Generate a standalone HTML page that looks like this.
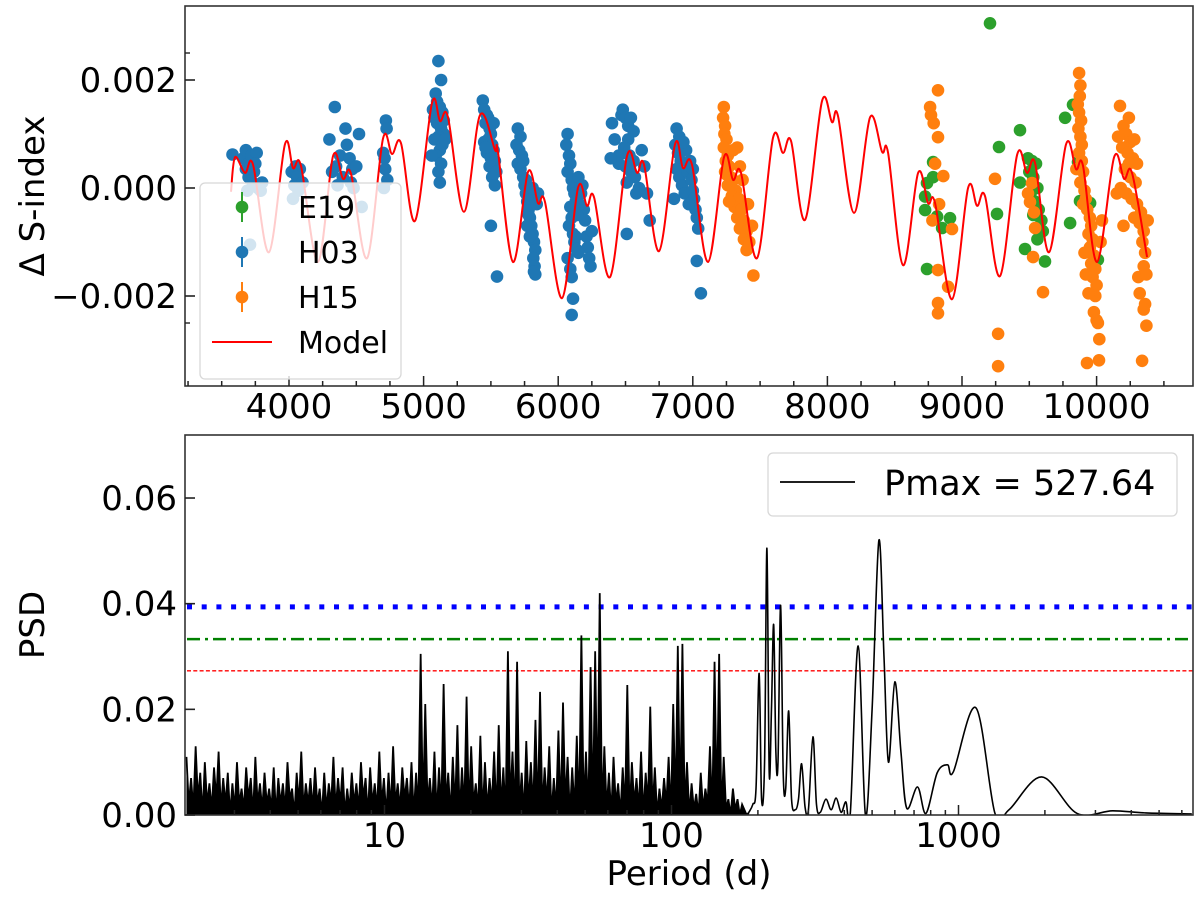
<!DOCTYPE html>
<html><head><meta charset="utf-8"><style>
html,body{margin:0;padding:0;background:#fff;}
svg{display:block;font-family:"DejaVu Sans","Liberation Sans",sans-serif;}
</style></head><body>
<svg id="fig" width="1200" height="897" viewBox="0 0 1200 897" xmlns="http://www.w3.org/2000/svg">
<defs>
<clipPath id="clipTop"><rect x="185" y="6" width="1008" height="380"/></clipPath>
<clipPath id="clipBot"><rect x="185" y="435" width="1008" height="380"/></clipPath>
</defs>
<g id="topPanel"></g>
<g id="botPanel"></g>
</svg>
<script>
// ---------- top panel data (values in units of 1e-3) ----------
const topXTicks = [4000,5000,6000,7000,8000,9000,10000];
const topYTicks = [-2,0,2];
const topYTickLabels = ["\u22120.002","0.000","0.002"];
const topYMinor = [-2.5,2.5];
const modelDates = [3569,3599,3673,3733,3851,3970,4030,4089,4215,4327,4401,4461,4580,4698,4765,4832,4936,5062,5122,5181,5300,5419,5531,5553,5664,5776,5850,5902,6028,6147,6214,6266,6385,6511,6586,6638,6749,6868,6927,6994,7113,7232,7299,7358,7477,7596,7670,7730,7834,7960,8034,8079,8198,8317,8406,8451,8562,8674,8748,8800,8926,9045,9112,9171,9283,9409,9483,9543,9647,9773,9847,9899,10003,10130,10204,10263,10375];
const modelVals = [-0.07,0.57,0.28,0.43,-1.19,0.81,0.37,0.41,-1.37,0.59,0.17,0.26,-1.30,0.91,0.63,0.83,-0.61,1.57,1.24,1.31,-0.44,1.35,0.70,0.66,-1.37,0.30,-0.28,-0.26,-2.04,0.0,-0.33,-0.17,-1.65,0.59,0.28,0.43,-1.17,0.81,0.37,0.43,-1.37,0.57,0.15,0.28,-1.30,0.93,0.65,0.87,-0.59,1.61,1.22,1.33,-0.46,1.31,0.67,0.65,-1.43,0.28,-0.28,-0.28,-2.06,0.0,-0.33,-0.15,-1.63,0.61,0.28,0.46,-1.19,0.81,0.35,0.41,-1.37,0.57,0.17,0.28,-1.28];
const e19 = [[9208,3.05],[9825,1.54],[9766,1.3],[9431,1.07],[9275,0.76],[8785,0.48],[8785,0.2],[8740,0.09],[8726,-0.16],[8726,-0.41],[8815,-0.53],[8911,-0.56],[8852,-0.74],[8740,-1.5],[9260,-0.48],[9490,0.55],[9520,0.5],[9550,0.45],[9500,0.3],[9530,0.2],[9560,0.0],[9510,-0.1],[9540,-0.25],[9570,-0.4],[9530,-0.5],[9590,-0.6],[9600,-0.8],[9560,-0.95],[9431,0.1],[9468,-1.13],[9617,-1.36],[9803,-0.65],[9877,-0.24],[9862,0.48],[9952,-0.28],[10010,-1.33]];
const h03 = [[3580,0.62],[3660,0.55],[3680,0.7],[3700,0.45],[3720,0.6],[3740,0.3],[3760,0.65],[3730,0.1],[3700,0.2],[3690,-0.05],[3770,0.0],[3800,0.1],[3790,-0.05],[3710,-1.05],[3750,0.45],[3680,0.35],
[4020,0.3],[4050,0.4],[4080,0.35],[4060,0.2],[4040,0.05],[4070,-0.05],[4100,0.1],[4030,-0.2],
[4340,1.5],[4300,0.9],[4320,0.3],[4350,0.4],[4380,0.6],[4420,1.1],[4430,0.8],[4450,0.55],[4470,0.35],[4460,0.1],[4500,0.4],[4520,1.0],[4540,-0.35],[4400,0.2],[4360,0.05],[4480,0.0],
[4720,1.25],[4725,1.1],[4700,0.65],[4710,0.55],[4715,0.35],[4730,0.15],[4705,0.0],
[5110,2.35],[5130,2.0],[5090,1.75],[5100,1.6],[5120,1.5],[5140,1.4],[5080,1.3],[5100,1.2],[5130,1.1],[5150,1.0],[5110,0.95],[5080,0.9],[5140,0.8],[5120,0.7],[5090,0.6],[5060,0.6],[5130,0.45],[5110,0.3],[5120,0.1],[5150,1.25],[5160,0.9],[5070,1.45],
[5440,1.62],[5450,1.45],[5470,1.35],[5460,1.2],[5490,1.1],[5500,1.0],[5480,0.9],[5450,0.85],[5510,0.8],[5520,0.7],[5470,0.65],[5500,0.55],[5530,0.5],[5490,0.4],[5540,0.3],[5510,0.2],[5530,0.05],[5480,1.3],[5520,1.2],[5500,-0.7],[5545,-1.64],[5460,0.75],
[5700,1.1],[5720,0.95],[5690,0.8],[5710,0.7],[5730,0.6],[5700,0.45],[5720,0.35],[5740,0.2],[5750,0.05],[5760,-0.1],[5770,-0.25],[5780,-0.4],[5790,-0.55],[5800,-0.7],[5810,-0.85],[5820,-1.0],[5830,-1.15],[5815,-1.3],[5825,-1.45],[5830,-1.6],[5780,-0.5],[5800,-0.2],[5760,0.15],[5740,0.5],[5790,-0.9],[5840,-0.3],[5850,-0.1],[5810,0.0],[5770,-0.7],[5820,-1.55],
[6070,1.0],[6060,0.8],[6080,0.6],[6090,0.45],[6070,0.3],[6100,0.15],[6110,0.0],[6120,-0.1],[6130,-0.25],[6090,-0.35],[6100,-0.55],[6080,-0.7],[6110,-0.85],[6120,-1.0],[6140,-1.15],[6070,-1.3],[6090,-1.5],[6100,-1.65],[6110,-2.05],[6100,-2.35],[6150,0.2],[6170,-0.1],[6190,-0.4],[6200,-0.6],[6210,-0.9],[6220,-1.1],[6230,-1.3],[6240,-1.45],[6160,-0.3],[6180,0.05],[6130,-0.9],[6150,-1.2],[6140,-0.5],[6250,-0.8],
[6400,1.2],[6420,0.9],[6450,0.6],[6470,1.35],[6480,1.45],[6500,1.3],[6520,1.15],[6540,1.3],[6560,1.05],[6520,0.9],[6490,0.75],[6530,0.6],[6560,0.5],[6500,0.4],[6540,0.3],[6570,0.2],[6510,0.1],[6600,0.0],[6580,-0.1],[6620,0.7],[6640,0.4],[6660,-0.1],[6680,-0.6],[6510,-0.85],[6450,0.45],[6390,0.55],
[6880,1.1],[6900,0.95],[6870,0.8],[6890,0.65],[6910,0.5],[6880,0.35],[6900,0.2],[6920,0.05],[6940,-0.1],[6960,0.3],[6980,0.5],[6990,0.15],[7000,-0.05],[7010,-0.2],[7020,-0.4],[7030,-0.55],[6950,0.7],[6860,-0.2],[6970,-0.3],[7040,-0.75],[7030,-1.35],[7060,-1.95],[6930,0.85],[7000,0.35]];
const h15 = [[7230,1.5],[7225,1.3],[7240,1.15],[7235,1.0],[7250,0.9],[7230,0.75],[7260,0.6],[7245,0.5],[7270,0.4],[7300,0.7],[7330,0.75],[7350,0.4],[7240,0.3],[7280,0.2],[7260,0.05],[7300,0.15],[7320,-0.05],[7290,-0.15],[7340,-0.2],[7310,-0.35],[7360,-0.4],[7330,-0.55],[7380,-0.6],[7350,-0.75],[7400,-0.8],[7380,-0.95],[7420,-1.0],[7400,-1.15],[7440,-0.7],[7270,-0.25],[7450,-1.62],[7250,0.25],[7370,0.15],[7410,-0.3],
[8822,1.81],[8763,1.5],[8770,1.35],[8790,1.2],[8822,0.94],[8800,0.45],[8861,0.22],[8830,-0.3],[8926,-0.76],[8822,-1.52],[8897,-1.83],[8822,-2.13],[8822,-2.32],[8780,-0.6],
[9245,0.17],[9268,-2.7],[9268,-3.3],
[9520,0.09],[9505,-0.26],[9543,-0.74],[9528,-1.28],[9602,-1.93],[9490,-0.1],[9535,-0.45],
[9870,2.13],[9880,1.9],[9875,1.7],[9860,1.55],[9870,1.4],[9885,1.25],[9865,1.1],[9880,0.95],[9890,0.8],[9870,0.65],[9850,0.35],[9890,0.5],[9900,0.3],[9880,0.1],[9910,-0.05],[9920,-0.2],[9900,-0.3],[9930,-0.4],[9950,-0.55],[9960,-0.7],[9940,-0.85],[9970,-0.95],[9950,-1.1],[9980,-1.25],[9960,-1.4],[9990,-1.5],[9970,-1.65],[10000,-1.8],[9990,-2.0],[9980,-2.3],[10000,-2.45],[10010,-2.5],[10020,-2.8],[9929,-3.24],[10018,-3.19],[9920,-1.6],[9940,-1.95],[10030,-1.0],[10040,-0.6],[9910,-1.2],
[10174,1.52],[10240,1.3],[10200,1.15],[10220,1.0],[10160,0.95],[10250,0.85],[10280,0.9],[10190,0.75],[10230,0.65],[10270,0.55],[10300,0.45],[10210,0.35],[10250,0.2],[10290,0.1],[10180,0.0],[10220,-0.1],[10260,-0.2],[10300,-0.3],[10330,-0.45],[10280,-0.55],[10320,-0.65],[10350,-0.8],[10200,-0.7],[10340,-1.0],[10360,-1.2],[10350,-1.45],[10310,-1.65],[10370,-1.6],[10320,-1.95],[10360,-2.15],[10350,-2.25],[10370,-2.55],[10338,-3.2],[10240,0.45],[10150,-0.1],[10380,-0.6]];

// ---------- bottom panel data (PSD in units of 1e-3) ----------
const psdYTicks = [0,20,40,60];
const psdYTickLabels = ["0.00","0.02","0.04","0.06"];
const periodTicks = [10,100,1000];
const noiseLogStart = 0.31, noiseLogStep = 0.008;
const noisePsd = [11,2,7,1,13,3,8,0,10,2,6,1,9,3,12,1,7,2,8,0,
6,1,10,2,5,1,9,3,7,0,11,2,6,1,8,2,5,1,9,0,
7,2,6,1,10,3,5,0,8,2,12,1,6,2,7,1,9,2,5,0,
8,1,6,2,11,1,7,2,9,0,5,1,8,2,6,1,10,3,7,0,
9,2,6,1,12,2,7,0,8,1,13,2,6,1,9,3,7,1,10,0,
8,1,30.5,0,21,2,7,1,12,0,9,1,24.8,2,8,0,11,1,17,0,
9,1,22.4,0,13,2,6,1,15,0,10,1,7,2,12,0,17,1,9,0,
31,2,12,0,29,1,8,0,14,2,10,1,18,0,23.3,1,9,2,13,0,
7,1,16,0,21.3,2,11,0,9,1,15,0,34,1,12,0,28,0,31,1,
42,0,13,1,8,0,11,2,6,0,9,1,24.6,0,10,2,7,1,12,0,
8,2,20.5,1,9,0,5,1,7,2,11,0,21,1,32,0,32.4,1,10,0,
6,1,4,0,8,1,5,2,13,0,29,1,30.5,0,11,1,3,0,5,1,
3,0,2,1,0,0.5];
const smoothPeriods = [186,192,197,202,206,211,215,219,223,227,231,235,240,245,250,256,262,270,277,284,292,300,311,320,330,345,360,375,390,405,420,447,474,500,528,550,570,600,630,660,720,770,843,915,960,1150,1340,1500,1950,2590,3440,4500,6500];
const smoothPsd = [0.5,2,5,26.8,3,10,50.5,8,20,36,12,10,39.7,8,5,19.7,3,1,3,9.7,1.5,1,14.8,2,0.5,3,1,3.2,0.5,2.5,0.5,32,0,20,52,30,10,25.2,12,1.3,5.3,0.3,8,9.5,8.2,20.3,0.3,1,7.2,0.3,0.8,0.4,0.2];
const fapLevels = [39.4,33.3,27.3];

const NS="http://www.w3.org/2000/svg";
function mk(tag, attrs, parent){const e=document.createElementNS(NS,tag);for(const k in attrs)e.setAttribute(k,attrs[k]);parent.appendChild(e);return e;}
function txt(s, attrs, parent){const e=mk('text',attrs,parent);e.textContent=s;return e;}
function catmull(pts){let d='M'+pts[0][0].toFixed(2)+','+pts[0][1].toFixed(2);
 for(let i=0;i<pts.length-1;i++){const p0=pts[Math.max(i-1,0)],p1=pts[i],p2=pts[i+1],p3=pts[Math.min(i+2,pts.length-1)];
  const c1=[p1[0]+(p2[0]-p0[0])/6,p1[1]+(p2[1]-p0[1])/6],c2=[p2[0]-(p3[0]-p1[0])/6,p2[1]-(p3[1]-p1[1])/6];
  d+='C'+c1[0].toFixed(2)+','+c1[1].toFixed(2)+' '+c2[0].toFixed(2)+','+c2[1].toFixed(2)+' '+p2[0].toFixed(2)+','+p2[1].toFixed(2);}
 return d;}

// ---------- top panel ----------
const topG=document.getElementById('topPanel');
const tx=d=>289+(d-4000)*0.1346;
const ty=v=>188-v*54;
const plotT=mk('g',{'clip-path':'url(#clipTop)'},topG);


function scatter(data,color,name){const g=mk('g',{fill:color},plotT);
 
 
 data.forEach(p=>{const c=mk('circle',{cx:tx(p[0]).toFixed(1),cy:ty(p[1]).toFixed(1),r:6.3},g);
  
  });}
scatter(e19,'#2ca02c','e19-series');
scatter(h03,'#1f77b4','h03-series');
scatter(h15,'#ff7f0e','h15-series');
const mpts=modelDates.map((d,i)=>[tx(d),ty(modelVals[i])]);
const mline=mk('path',{d:catmull(mpts),fill:'none',stroke:'#ff0000','stroke-width':2},plotT);


const fT=mk('rect',{x:185,y:6,width:1008,height:380,fill:'none',stroke:'#333','stroke-width':1.6},topG);


topYTicks.forEach((v,i)=>{mk('line',{x1:185,x2:195,y1:ty(v),y2:ty(v),stroke:'#222','stroke-width':1.6},topG);
 const t=txt(topYTickLabels[i],{x:177,y:ty(v)+12,'font-size':34,'text-anchor':'end',fill:'#000'},topG);
 
 });
topYMinor.forEach(v=>mk('line',{x1:185,x2:190,y1:ty(v),y2:ty(v),stroke:'#222','stroke-width':1.4},topG));
for(let d=3250;d<=10700;d+=250){const major=d%1000===0;mk('line',{x1:tx(d),x2:tx(d),y1:386,y2:major?376:381,stroke:'#222','stroke-width':1.5},topG);}
topXTicks.forEach(d=>{const t=txt(String(d),{x:tx(d),y:418,'font-size':34,'text-anchor':'middle',fill:'#000'},topG);
 
 });
const yl=txt('\u0394 S-index',{x:0,y:0,'font-size':34,'text-anchor':'middle',transform:'translate(44,196) rotate(-90)',fill:'#000'},topG);


const lg=mk('g',{},topG);


mk('rect',{x:200,y:183,width:201,height:196,rx:5,fill:'rgba(255,255,255,0.8)',stroke:'#d8d8d8','stroke-width':1.3},lg);
[['E19','#2ca02c',207],['H03','#1f77b4',252],['H15','#ff7f0e',297]].forEach(e=>{
 const g=mk('g',{},lg);
 
 
 mk('line',{x1:242,x2:242,y1:e[2]-15,y2:e[2]+15,stroke:e[1],'stroke-width':2},g);
 mk('circle',{cx:242,cy:e[2],r:6.3,fill:e[1]},g);
 txt(e[0],{x:298,y:e[2]+11,'font-size':30,fill:'#000'},g);});
const lm=mk('g',{},lg);


mk('line',{x1:212,x2:272,y1:342,y2:342,stroke:'#ff0000','stroke-width':2},lm);
txt('Model',{x:298,y:353,'font-size':30,fill:'#000'},lm);

// ---------- bottom panel ----------
const botG=document.getElementById('botPanel');
const bx=p=>384.5+(Math.log10(p)-1)*287;
const bxl=l=>384.5+(l-1)*287;
const by=v=>815-v*5.283;
const plotB=mk('g',{'clip-path':'url(#clipBot)'},botG);


const fapStyles=[{stroke:'#0000ff','stroke-width':5,'stroke-dasharray':'5 9.7'},{stroke:'#008000','stroke-width':2.5,'stroke-dasharray':'13 5 3 5'},{stroke:'#ff0000','stroke-width':1.4,'stroke-dasharray':'4 2.3'}];
const fapNames=['fap-line-0.1','fap-line-1','fap-line-10'];
fapLevels.forEach((v,i)=>{const a=Object.assign({x1:187,x2:1193,y1:by(v),y2:by(v)},fapStyles[i]);const l=mk('line',a,plotB);
 
 });
let nd='';noisePsd.forEach((v,i)=>{nd+=(i?'L':'M')+bxl(noiseLogStart+noiseLogStep*i).toFixed(2)+','+by(v).toFixed(2);});
const nEnd=bxl(noiseLogStart+noiseLogStep*(noisePsd.length-1)).toFixed(2);
const nfill=mk('path',{d:nd+'L'+nEnd+',815L'+bxl(noiseLogStart).toFixed(2)+',815Z',fill:'#000',stroke:'none'},plotB);


const np=mk('path',{d:nd,fill:'none',stroke:'#000','stroke-width':1.8},plotB);


const spts=smoothPeriods.map((p,i)=>[bx(p),by(smoothPsd[i])]);
const sp=mk('path',{d:catmull(spts),fill:'none',stroke:'#000','stroke-width':1.6},plotB);


const fB=mk('rect',{x:185,y:435,width:1008,height:380,fill:'none',stroke:'#333','stroke-width':1.6},botG);


psdYTicks.forEach((v,i)=>{mk('line',{x1:185,x2:195,y1:by(v),y2:by(v),stroke:'#222','stroke-width':1.6},botG);
 const t=txt(psdYTickLabels[i],{x:177,y:by(v)+12,'font-size':34,'text-anchor':'end',fill:'#000'},botG);
 
 });
[1,10,100,1000].forEach(dec=>{for(let m=1;m<10;m++){const p=dec*m;const x=bx(p);if(x<186||x>1192)continue;
 mk('line',{x1:x,x2:x,y1:815,y2:m===1?805:810,stroke:'#222','stroke-width':1.5},botG);}});
periodTicks.forEach(p=>{const t=txt(String(p),{x:bx(p),y:847,'font-size':34,'text-anchor':'middle',fill:'#000'},botG);
 
 });
const xl=txt('Period (d)',{x:689,y:885,'font-size':34,'text-anchor':'middle',fill:'#000'},botG);


const pl=txt('PSD',{x:0,y:0,'font-size':34,'text-anchor':'middle',transform:'translate(44,625) rotate(-90)',fill:'#000'},botG);


const lg2=mk('g',{},botG);


mk('rect',{x:768,y:453,width:409,height:63,rx:5,fill:'rgba(255,255,255,0.8)',stroke:'#d8d8d8','stroke-width':1.3},lg2);
mk('line',{x1:780,x2:855,y1:482,y2:482,stroke:'#000','stroke-width':1.8},lg2);
txt('Pmax = 527.64',{x:884,y:495,'font-size':35,fill:'#000'},lg2);
</script>
</body></html>
